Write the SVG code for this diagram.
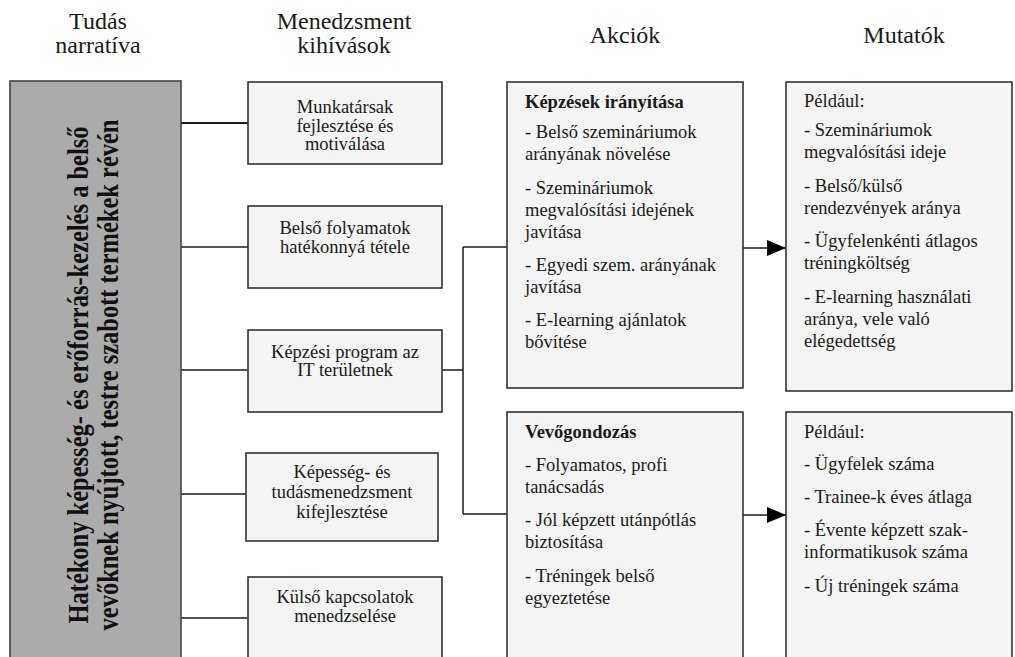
<svg xmlns="http://www.w3.org/2000/svg" width="1015" height="657" viewBox="0 0 1015 657">
<style>
.hdr{font-family:"Liberation Serif","Times New Roman",serif;font-size:24px;fill:#1a1a1a;text-anchor:middle}
.box{fill:#f4f4f4;stroke:#333;stroke-width:1.6}
.ch{font-family:"Liberation Serif","Times New Roman",serif;font-size:18.5px;fill:#1a1a1a;text-anchor:middle}
.tx{font-family:"Liberation Serif","Times New Roman",serif;font-size:18.5px;fill:#1a1a1a}
.b{font-weight:bold}
.ln{stroke:#1a1a1a;stroke-width:1.5;fill:none}
.rot{font-family:"Liberation Serif","Times New Roman",serif;font-size:24.5px;font-weight:bold;fill:#111;text-anchor:middle}
</style>
<defs>
<marker id="ah" markerWidth="20" markerHeight="16" refX="19" refY="8" orient="auto" markerUnits="userSpaceOnUse">
<path d="M0,0 L19,8 L0,16 Z" fill="#000"/>
</marker>
</defs>
<rect width="1015" height="657" fill="#fff"/>

<g id="headers">
<text class="hdr" x="98" y="29">Tudás</text>
<text class="hdr" x="98" y="53">narratíva</text>
<text class="hdr" x="344" y="29">Menedzsment</text>
<text class="hdr" x="344" y="53">kihívások</text>
<text class="hdr" x="625" y="43">Akciók</text>
<text class="hdr" x="904" y="43">Mutatók</text>
</g>

<g id="connectors">
<line class="ln" x1="181" y1="123" x2="248" y2="123" style="stroke-width:2.2"/>
<line class="ln" x1="181" y1="247" x2="248" y2="247"/>
<line class="ln" x1="181" y1="370" x2="248" y2="370"/>
<line class="ln" x1="181" y1="494" x2="246" y2="494"/>
<line class="ln" x1="181" y1="618" x2="248" y2="618"/>
<line class="ln" x1="442" y1="370" x2="463" y2="370"/>
<line class="ln" x1="463" y1="247" x2="463" y2="514"/>
<line class="ln" x1="463" y1="247" x2="507" y2="247"/>
<line class="ln" x1="463" y1="514" x2="507" y2="514"/>
<line class="ln" x1="743" y1="248" x2="786" y2="248" marker-end="url(#ah)"/>
<line class="ln" x1="743" y1="515" x2="786" y2="515" marker-end="url(#ah)"/>
</g>

<g id="narrative">
<rect x="10" y="81" width="171" height="600" fill="#ababab" stroke="#444" stroke-width="1.6"/>
<text class="rot" transform="translate(88,375) rotate(-90) scale(1,1.2)">Hatékony képesség- és erőforrás-kezelés a belső</text>
<text class="rot" transform="translate(118,375) rotate(-90) scale(1,1.2)">vevőknek nyújtott, testre szabott termékek révén</text>
</g>

<g id="challenge1">
<rect class="box" x="248" y="82" width="194" height="82"/>
<text class="ch" x="345" y="113">Munkatársak</text>
<text class="ch" x="345" y="132">fejlesztése és</text>
<text class="ch" x="345" y="150">motiválása</text>
</g>
<g id="challenge2">
<rect class="box" x="248" y="206" width="194" height="82"/>
<text class="ch" x="345" y="234">Belső folyamatok</text>
<text class="ch" x="345" y="253">hatékonnyá tétele</text>
</g>
<g id="challenge3">
<rect class="box" x="248" y="330" width="194" height="82"/>
<text class="ch" x="345" y="358">Képzési program az</text>
<text class="ch" x="345" y="376">IT területnek</text>
</g>
<g id="challenge4">
<rect class="box" x="246" y="453" width="192" height="88"/>
<text class="ch" x="342" y="478">Képesség- és</text>
<text class="ch" x="342" y="498">tudásmenedzsment</text>
<text class="ch" x="342" y="518">kifejlesztése</text>
</g>
<g id="challenge5">
<rect class="box" x="248" y="577" width="194" height="110"/>
<text class="ch" x="345" y="603">Külső kapcsolatok</text>
<text class="ch" x="345" y="622">menedzselése</text>
</g>

<g id="action1">
<rect class="box" x="507" y="82" width="236" height="306"/>
<text class="tx b" x="525" y="108">Képzések irányítása</text>
<text class="tx" x="525" y="138">- Belső szemináriumok</text>
<text class="tx" x="525" y="160">arányának növelése</text>
<text class="tx" x="525" y="194">- Szemináriumok</text>
<text class="tx" x="525" y="216">megvalósítási idejének</text>
<text class="tx" x="525" y="238">javítása</text>
<text class="tx" x="525" y="271">- Egyedi szem. arányának</text>
<text class="tx" x="525" y="293">javítása</text>
<text class="tx" x="525" y="326">- E-learning ajánlatok</text>
<text class="tx" x="525" y="348">bővítése</text>
</g>
<g id="action2">
<rect class="box" x="507" y="412" width="236" height="270"/>
<text class="tx b" x="525" y="438">Vevőgondozás</text>
<text class="tx" x="525" y="471">- Folyamatos, profi</text>
<text class="tx" x="525" y="493">tanácsadás</text>
<text class="tx" x="525" y="526">- Jól képzett utánpótlás</text>
<text class="tx" x="525" y="548">biztosítása</text>
<text class="tx" x="525" y="582">- Tréningek belső</text>
<text class="tx" x="525" y="604">egyeztetése</text>
</g>

<g id="indicator1">
<rect class="box" x="786" y="82" width="226" height="309"/>
<text class="tx" x="804" y="107">Például:</text>
<text class="tx" x="804" y="136">- Szemináriumok</text>
<text class="tx" x="804" y="158">megvalósítási ideje</text>
<text class="tx" x="804" y="192">- Belső/külső</text>
<text class="tx" x="804" y="214">rendezvények aránya</text>
<text class="tx" x="804" y="247">- Ügyfelenkénti átlagos</text>
<text class="tx" x="804" y="269">tréningköltség</text>
<text class="tx" x="804" y="303">- E-learning használati</text>
<text class="tx" x="804" y="325">aránya, vele való</text>
<text class="tx" x="804" y="347">elégedettség</text>
</g>
<g id="indicator2">
<rect class="box" x="786" y="412" width="226" height="270"/>
<text class="tx" x="804" y="438">Például:</text>
<text class="tx" x="804" y="470">- Ügyfelek száma</text>
<text class="tx" x="804" y="503">- Trainee-k éves átlaga</text>
<text class="tx" x="804" y="536">- Évente képzett szak-</text>
<text class="tx" x="804" y="558">informatikusok száma</text>
<text class="tx" x="804" y="592">- Új tréningek száma</text>
</g>
</svg>
